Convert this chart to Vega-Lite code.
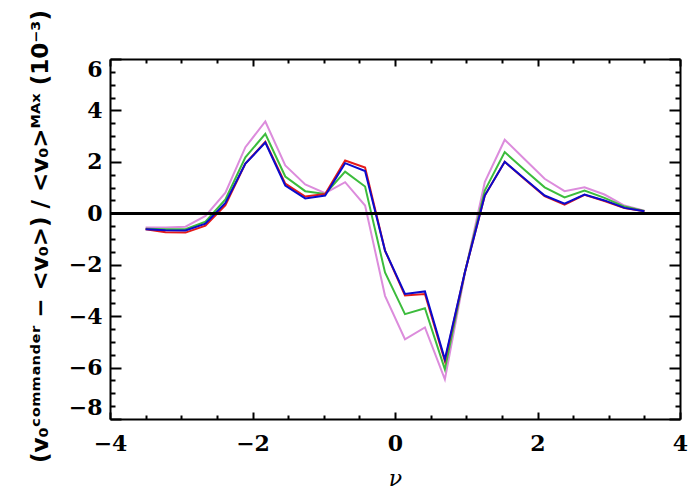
{
  "$schema": "https://vega.github.io/schema/vega-lite/v6.json",
  "autosize": "none",
  "width": 570,
  "height": 360,
  "padding": {"left": 110, "top": 59, "right": 20, "bottom": 81},
  "background": "white",
  "config": {
    "view": {"stroke": null},
    "axis": {
      "grid": false,
      "domainColor": "black",
      "domainWidth": 2,
      "tickColor": "black",
      "tickWidth": 2,
      "labelFont": "DejaVu Serif",
      "labelFontSize": 22,
      "labelFontWeight": "bold",
      "labelColor": "black",
      "titleColor": "black"
    }
  },
  "data": {
    "values": [
      {"nu": -3.50, "v": -0.55, "s": "violet"},
      {"nu": -3.22, "v": -0.55, "s": "violet"},
      {"nu": -2.94, "v": -0.52, "s": "violet"},
      {"nu": -2.66, "v": -0.10, "s": "violet"},
      {"nu": -2.38, "v": 0.80, "s": "violet"},
      {"nu": -2.10, "v": 2.57, "s": "violet"},
      {"nu": -1.82, "v": 3.57, "s": "violet"},
      {"nu": -1.54, "v": 1.86, "s": "violet"},
      {"nu": -1.26, "v": 1.12, "s": "violet"},
      {"nu": -0.98, "v": 0.78, "s": "violet"},
      {"nu": -0.70, "v": 1.21, "s": "violet"},
      {"nu": -0.42, "v": 0.30, "s": "violet"},
      {"nu": -0.14, "v": -3.21, "s": "violet"},
      {"nu": 0.14, "v": -4.90, "s": "violet"},
      {"nu": 0.42, "v": -4.44, "s": "violet"},
      {"nu": 0.70, "v": -6.46, "s": "violet"},
      {"nu": 0.98, "v": -2.35, "s": "violet"},
      {"nu": 1.26, "v": 1.21, "s": "violet"},
      {"nu": 1.54, "v": 2.86, "s": "violet"},
      {"nu": 1.82, "v": 2.10, "s": "violet"},
      {"nu": 2.10, "v": 1.34, "s": "violet"},
      {"nu": 2.38, "v": 0.86, "s": "violet"},
      {"nu": 2.66, "v": 1.01, "s": "violet"},
      {"nu": 2.94, "v": 0.73, "s": "violet"},
      {"nu": 3.22, "v": 0.30, "s": "violet"},
      {"nu": 3.50, "v": 0.10, "s": "violet"},

      {"nu": -3.50, "v": -0.60, "s": "green"},
      {"nu": -3.22, "v": -0.62, "s": "green"},
      {"nu": -2.94, "v": -0.62, "s": "green"},
      {"nu": -2.66, "v": -0.33, "s": "green"},
      {"nu": -2.38, "v": 0.54, "s": "green"},
      {"nu": -2.10, "v": 2.18, "s": "green"},
      {"nu": -1.82, "v": 3.09, "s": "green"},
      {"nu": -1.54, "v": 1.43, "s": "green"},
      {"nu": -1.26, "v": 0.86, "s": "green"},
      {"nu": -0.98, "v": 0.75, "s": "green"},
      {"nu": -0.70, "v": 1.62, "s": "green"},
      {"nu": -0.42, "v": 1.04, "s": "green"},
      {"nu": -0.14, "v": -2.30, "s": "green"},
      {"nu": 0.14, "v": -3.92, "s": "green"},
      {"nu": 0.42, "v": -3.69, "s": "green"},
      {"nu": 0.70, "v": -6.07, "s": "green"},
      {"nu": 0.98, "v": -2.30, "s": "green"},
      {"nu": 1.26, "v": 0.88, "s": "green"},
      {"nu": 1.54, "v": 2.38, "s": "green"},
      {"nu": 1.82, "v": 1.68, "s": "green"},
      {"nu": 2.10, "v": 1.01, "s": "green"},
      {"nu": 2.38, "v": 0.62, "s": "green"},
      {"nu": 2.66, "v": 0.88, "s": "green"},
      {"nu": 2.94, "v": 0.60, "s": "green"},
      {"nu": 3.22, "v": 0.26, "s": "green"},
      {"nu": 3.50, "v": 0.09, "s": "green"},

      {"nu": -3.50, "v": -0.62, "s": "red"},
      {"nu": -3.22, "v": -0.74, "s": "red"},
      {"nu": -2.94, "v": -0.75, "s": "red"},
      {"nu": -2.66, "v": -0.48, "s": "red"},
      {"nu": -2.38, "v": 0.32, "s": "red"},
      {"nu": -2.10, "v": 1.93, "s": "red"},
      {"nu": -1.82, "v": 2.78, "s": "red"},
      {"nu": -1.54, "v": 1.15, "s": "red"},
      {"nu": -1.26, "v": 0.65, "s": "red"},
      {"nu": -0.98, "v": 0.75, "s": "red"},
      {"nu": -0.70, "v": 2.05, "s": "red"},
      {"nu": -0.42, "v": 1.78, "s": "red"},
      {"nu": -0.14, "v": -1.45, "s": "red"},
      {"nu": 0.14, "v": -3.20, "s": "red"},
      {"nu": 0.42, "v": -3.14, "s": "red"},
      {"nu": 0.70, "v": -5.75, "s": "red"},
      {"nu": 0.98, "v": -2.30, "s": "red"},
      {"nu": 1.26, "v": 0.69, "s": "red"},
      {"nu": 1.54, "v": 2.00, "s": "red"},
      {"nu": 1.82, "v": 1.32, "s": "red"},
      {"nu": 2.10, "v": 0.67, "s": "red"},
      {"nu": 2.38, "v": 0.34, "s": "red"},
      {"nu": 2.66, "v": 0.72, "s": "red"},
      {"nu": 2.94, "v": 0.48, "s": "red"},
      {"nu": 3.22, "v": 0.20, "s": "red"},
      {"nu": 3.50, "v": 0.08, "s": "red"},

      {"nu": -3.50, "v": -0.62, "s": "blue"},
      {"nu": -3.22, "v": -0.66, "s": "blue"},
      {"nu": -2.94, "v": -0.67, "s": "blue"},
      {"nu": -2.66, "v": -0.40, "s": "blue"},
      {"nu": -2.38, "v": 0.40, "s": "blue"},
      {"nu": -2.10, "v": 1.93, "s": "blue"},
      {"nu": -1.82, "v": 2.75, "s": "blue"},
      {"nu": -1.54, "v": 1.08, "s": "blue"},
      {"nu": -1.26, "v": 0.58, "s": "blue"},
      {"nu": -0.98, "v": 0.69, "s": "blue"},
      {"nu": -0.70, "v": 1.95, "s": "blue"},
      {"nu": -0.42, "v": 1.64, "s": "blue"},
      {"nu": -0.14, "v": -1.45, "s": "blue"},
      {"nu": 0.14, "v": -3.14, "s": "blue"},
      {"nu": 0.42, "v": -3.04, "s": "blue"},
      {"nu": 0.70, "v": -5.68, "s": "blue"},
      {"nu": 0.98, "v": -2.30, "s": "blue"},
      {"nu": 1.26, "v": 0.69, "s": "blue"},
      {"nu": 1.54, "v": 2.00, "s": "blue"},
      {"nu": 1.82, "v": 1.34, "s": "blue"},
      {"nu": 2.10, "v": 0.69, "s": "blue"},
      {"nu": 2.38, "v": 0.37, "s": "blue"},
      {"nu": 2.66, "v": 0.73, "s": "blue"},
      {"nu": 2.94, "v": 0.50, "s": "blue"},
      {"nu": 3.22, "v": 0.21, "s": "blue"},
      {"nu": 3.50, "v": 0.08, "s": "blue"}
    ]
  },
  "layer": [
    {
      "mark": {"type": "line", "strokeWidth": 2},
      "encoding": {
        "x": {
          "field": "nu", "type": "quantitative",
          "scale": {"domain": [-4, 4], "nice": false, "zero": false},
          "axis": {
            "orient": "bottom",
            "values": [-4, -3.5, -3, -2.5, -2, -1.5, -1, -0.5, 0, 0.5, 1, 1.5, 2, 2.5, 3, 3.5, 4],
            "labelExpr": "datum.value % 2 === 0 ? (datum.value < 0 ? '−' + (-datum.value) : '' + datum.value) : ''",
            "tickSize": {"condition": {"test": "datum.value % 2 === 0", "value": -7}, "value": -4},
            "labelPadding": 21,
            "labelFlush": false,
            "labelOverlap": false,
            "title": "ν",
            "titleFont": "DejaVu Serif",
            "titleFontStyle": "italic",
            "titleFontSize": 22,
            "titleFontWeight": "normal",
            "titleX": 285,
            "titleY": 59,
            "titleBaseline": "middle",
            "titleAlign": "center"
          }
        },
        "y": {
          "field": "v", "type": "quantitative",
          "scale": {"domain": [-8, 6], "nice": false, "zero": false},
          "axis": {
            "orient": "left",
            "values": [-8, -7.5, -7, -6.5, -6, -5.5, -5, -4.5, -4, -3.5, -3, -2.5, -2, -1.5, -1, -0.5, 0, 0.5, 1, 1.5, 2, 2.5, 3, 3.5, 4, 4.5, 5, 5.5, 6],
            "labelExpr": "datum.value % 2 === 0 ? (datum.value < 0 ? '−' + (-datum.value) : '' + datum.value) : ''",
            "tickSize": {"condition": {"test": "datum.value % 2 === 0", "value": -11}, "value": -5},
            "labelPadding": 19,
            "labelFlush": true,
            "labelOverlap": false,
            "title": "(v₀ᶜᵒᵐᵐᵃⁿᵈᵉʳ  −  <v₀>)  /  <v₀>ᴹᴬˣ  (10⁻³)",
            "titleFont": "DejaVu Sans",
            "titleFontSize": 23,
            "titleFontWeight": "bold",
            "titleAngle": -90,
            "titleX": -70,
            "titleY": 177,
            "titleAlign": "center",
            "titleBaseline": "middle"
          }
        },
        "color": {
          "field": "s", "type": "nominal",
          "scale": {"domain": ["violet", "green", "red", "blue"], "range": ["#dc8cdc", "#3cbc3c", "#e41a1a", "#0a0acd"]},
          "legend": null
        }
      }
    },
    {
      "mark": {"type": "rule", "color": "black", "strokeWidth": 2},
      "encoding": {
        "x": {
          "datum": -4, "type": "quantitative",
          "axis": {
            "orient": "top",
            "values": [-4, -3.5, -3, -2.5, -2, -1.5, -1, -0.5, 0, 0.5, 1, 1.5, 2, 2.5, 3, 3.5, 4],
            "labels": false,
            "title": null,
            "tickSize": {"condition": {"test": "datum.value % 2 === 0", "value": -7}, "value": -4}
          }
        },
        "x2": {"datum": 4},
        "y": {
          "datum": 0, "type": "quantitative",
          "axis": {
            "orient": "right",
            "values": [-8, -7.5, -7, -6.5, -6, -5.5, -5, -4.5, -4, -3.5, -3, -2.5, -2, -1.5, -1, -0.5, 0, 0.5, 1, 1.5, 2, 2.5, 3, 3.5, 4, 4.5, 5, 5.5, 6],
            "labels": false,
            "title": null,
            "tickSize": {"condition": {"test": "datum.value % 2 === 0", "value": -11}, "value": -5}
          }
        }
      }
    }
  ]
}
